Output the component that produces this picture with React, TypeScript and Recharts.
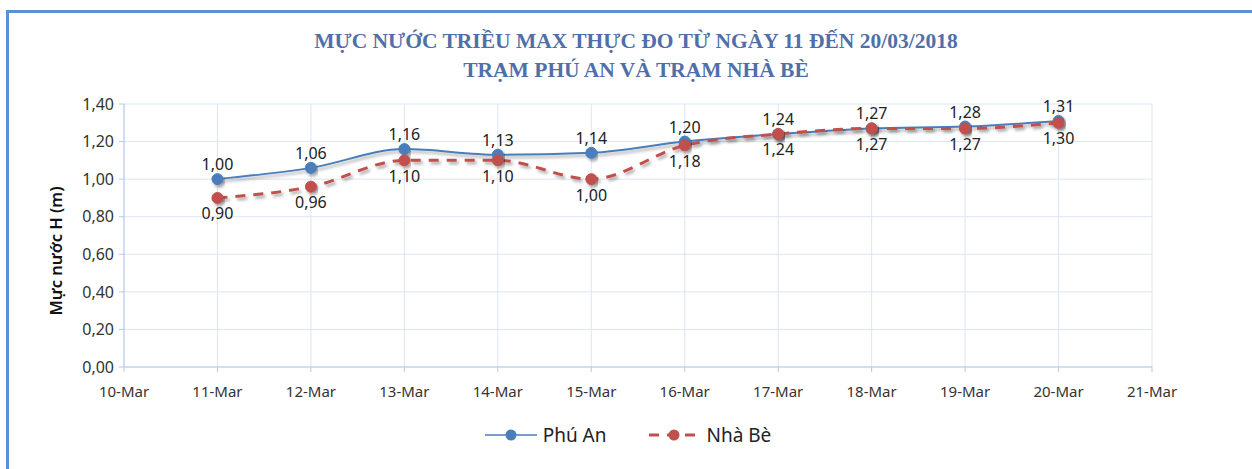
import React from 'react';
import { LineChart, Line, XAxis, YAxis, CartesianGrid, LabelList } from 'recharts';

const days = [11, 12, 13, 14, 15, 16, 17, 18, 19, 20];
const phuAn = [1.0, 1.06, 1.16, 1.13, 1.14, 1.2, 1.24, 1.27, 1.28, 1.31];
const nhaBe = [0.9, 0.96, 1.1, 1.1, 1.0, 1.18, 1.24, 1.27, 1.27, 1.3];
const xTicks = [10, 11, 12, 13, 14, 15, 16, 17, 18, 19, 20, 21];
const yTicks = [0, 0.2, 0.4, 0.6, 0.8, 1.0, 1.2, 1.4];

const BLUE = '#4a7ebb';
const RED = '#c0504d';
const FONT = '"Noto Sans", "Open Sans", sans-serif';

const fmt = (v: number) => v.toFixed(2).replace('.', ',');

const data = days.map((d, i) => ({ day: d, phuAn: phuAn[i], nhaBe: nhaBe[i] }));

function LegendBox() {
  return (
    <div style={{ position: 'absolute', left: 0, top: 422, width: 1256, display: 'flex', justifyContent: 'center', gap: 42, fontFamily: FONT, fontSize: 19, color: '#222' }}>
      <div style={{ display: 'flex', alignItems: 'center', gap: 6 }}>
        <svg width={52} height={14}>
          <line x1={0} y1={7} x2={52} y2={7} stroke={BLUE} strokeWidth={1.5} />
          <circle cx={26} cy={7} r={5.5} fill={BLUE} />
        </svg>
        <span>Phú An</span>
      </div>
      <div style={{ display: 'flex', alignItems: 'center', gap: 6 }}>
        <svg width={52} height={14}>
          <line x1={0} y1={7} x2={52} y2={7} stroke={RED} strokeWidth={3} strokeDasharray="10 8" strokeDashoffset={-1} />
          <circle cx={26} cy={7} r={5.5} fill={RED} />
        </svg>
        <span>Nhà Bè</span>
      </div>
    </div>
  );
}

export default function App() {
  return (
    <div style={{ position: 'absolute', left: 0, top: 0, width: 1252, height: 469, background: '#fff', overflow: 'hidden' }}>
      <div style={{ position: 'absolute', left: 6, top: 10, right: 0, bottom: 0, borderTop: '3px solid #5b8fd8', borderLeft: '3px solid #5b8fd8' }} />
      <div style={{ position: 'absolute', left: 0, top: 27, width: 1272, textAlign: 'center', fontFamily: '"Liberation Serif", "Times New Roman", serif', fontWeight: 'bold', fontSize: 21.5, lineHeight: '29px', color: '#4f6fa9' }}>
        <div>MỰC NƯỚC TRIỀU MAX THỰC ĐO TỪ NGÀY 11 ĐẾN 20/03/2018</div>
        <div>TRẠM PHÚ AN VÀ TRẠM NHÀ BÈ</div>
      </div>
      <div style={{ position: 'absolute', left: 0, top: 0 }}>
        <LineChart width={1252} height={469} data={data} margin={{ top: 104, right: 100, left: 64, bottom: 72 }}>
          <defs>
            <filter id="shadow" x="-10%" y="-50%" width="120%" height="200%">
              <feDropShadow dx={2} dy={2.5} stdDeviation={1.5} floodColor="#000" floodOpacity={0.35} />
            </filter>
          </defs>
          <CartesianGrid stroke="#dbe5f3" strokeWidth={1} />
          <XAxis
            dataKey="day"
            type="number"
            domain={[10, 21]}
            ticks={xTicks}
            tickFormatter={(d: number) => `${d}-Mar`}
            stroke="#b4c9ea"
            tickLine={{ stroke: '#b4c9ea' }}
            tickSize={5}
            tick={{ fontSize: 15, fill: '#333', fontFamily: FONT, dy: 12 }}
            height={30}
          />
          <YAxis
            domain={[0, 1.4]}
            ticks={yTicks}
            tickFormatter={fmt}
            stroke="#b4c9ea"
            tickSize={5}
            tick={{ fontSize: 16, fill: '#333', fontFamily: FONT, dx: -3 }}
            width={60}
            label={{
              content: () => (
                <text x={55} y={251} transform="rotate(-90 55 251)" textAnchor="middle" dominantBaseline="central" fontFamily={FONT} fontSize={16.5} fontWeight={600} fill="#111">
                  Mực nước H (m)
                </text>
              ),
            }}
          />
          <Line
            dataKey="phuAn"
            name="Phú An"
            type="monotone"
            stroke={BLUE}
            strokeWidth={2}
            dot={{ r: 5.5, fill: BLUE, stroke: BLUE, strokeWidth: 1, filter: 'url(#shadow)' }}
            filter="url(#shadow)"
            isAnimationActive={false}
          >
            <LabelList dataKey="phuAn" position="top" offset={9} formatter={(v: number) => fmt(v)} style={{ fontSize: 16, fill: '#222', fontFamily: FONT }} />
          </Line>
          <Line
            dataKey="nhaBe"
            name="Nhà Bè"
            type="monotone"
            stroke={RED}
            strokeWidth={3}
            strokeDasharray="10 8"
            dot={{ r: 5.5, fill: RED, stroke: RED, strokeWidth: 1, strokeDasharray: '0', filter: 'url(#shadow)' }}
            filter="url(#shadow)"
            isAnimationActive={false}
          >
            <LabelList dataKey="nhaBe" position="bottom" offset={10} formatter={(v: number) => fmt(v)} style={{ fontSize: 16, fill: '#222', fontFamily: FONT }} />
          </Line>
        </LineChart>
      </div>
      <LegendBox />
    </div>
  );
}
